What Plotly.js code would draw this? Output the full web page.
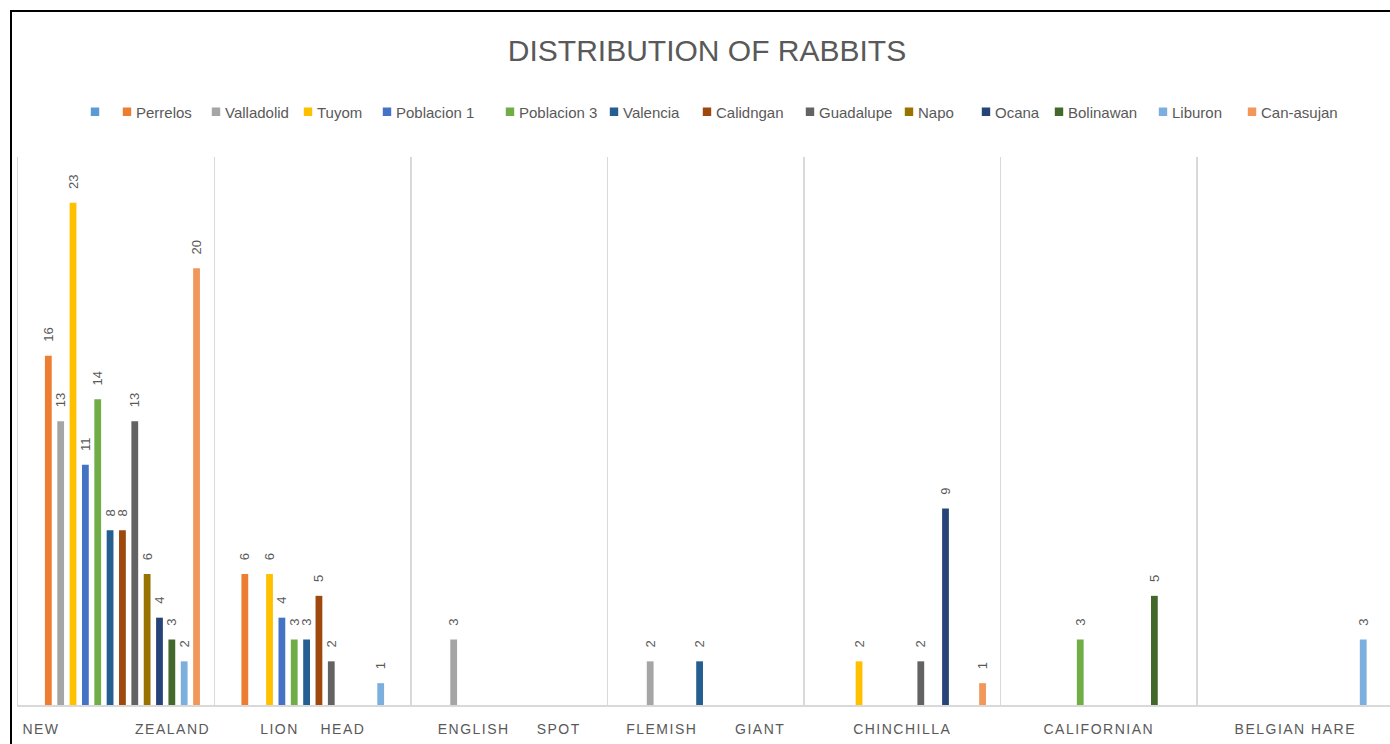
<!DOCTYPE html>
<html><head><meta charset="utf-8">
<script src="https://cdn.plot.ly/plotly-3.0.1.min.js"></script>
<style>
html,body{margin:0;padding:0;background:#fff;overflow:hidden;width:1390px;height:744px;}
#chart{position:absolute;left:0;top:0;width:1390px;height:744px;}
#frame{position:absolute;left:10px;top:10px;width:1500px;height:900px;border-left:2px solid #000;border-top:2px solid #000;pointer-events:none;z-index:5;}
.xtick text{letter-spacing:1.5px;}
.legendpoints path{transform:translate(31px,0px) scale(0.7);}
</style></head><body>
<div id="chart"></div><div id="frame"></div>
<script>
const categories = ["NEW ZEALAND","LION HEAD","ENGLISH SPOT","FLEMISH GIANT","CHINCHILLA","CALIFORNIAN","BELGIAN HARE"];
const NB = "\u00a0";
const tickLabels = [
  "NEW" + NB.repeat(14) + "ZEALAND",
  "LION" + NB.repeat(4) + "HEAD",
  "ENGLISH" + NB.repeat(5) + "SPOT",
  "FLEMISH" + NB.repeat(7) + "GIANT",
  "CHINCHILLA",
  "CALIFORNIAN",
  "BELGIAN HARE"
];
const seriesNames = ["", "Perrelos", "Valladolid", "Tuyom", "Poblacion 1", "Poblacion 3", "Valencia", "Calidngan", "Guadalupe", "Napo", "Ocana", "Bolinawan", "Liburon", "Can-asujan"];
const seriesColors = ["#5B9BD5", "#ED7D31", "#A5A5A5", "#FFC000", "#4472C4", "#70AD47", "#255E91", "#9E480E", "#636363", "#997300", "#264478", "#43682B", "#7CAFDD", "#F1975A"];
//                     NZ    LH    ES    FG    CH    CA    BH
const unnamed     = [null, null, null, null, null, null, null];
const perrelos    = [16,   6,    null, null, null, null, null];
const valladolid  = [13,   null, 3,    2,    null, null, null];
const tuyom       = [23,   6,    null, null, 2,    null, null];
const poblacion1  = [11,   4,    null, null, null, null, null];
const poblacion3  = [14,   3,    null, null, null, 3,    null];
const valencia    = [8,    3,    null, 2,    null, null, null];
const calidngan   = [8,    5,    null, null, null, null, null];
const guadalupe   = [13,   2,    null, null, 2,    null, null];
const napo        = [6,    null, null, null, null, null, null];
const ocana       = [4,    null, null, null, 9,    null, null];
const bolinawan   = [3,    null, null, null, null, 5,    null];
const liburon     = [2,    1,    null, null, null, null, 3];
const canasujan   = [20,   null, null, null, 1,    null, null];
const seriesValues = [unnamed, perrelos, valladolid, tuyom, poblacion1, poblacion3, valencia, calidngan, guadalupe, napo, ocana, bolinawan, liburon, canasujan];

// legend entry placement (pixel x of each legend swatch centre) - layout only
const legendSwatchX = [95, 127, 216, 308, 387, 510, 614, 707, 810, 909, 986, 1059, 1163, 1252];
const SWATCH_OFFSET = 31; // swatch centre relative to legend box left (see CSS)

const FONT = "Liberation Sans, Arial, sans-serif";
const GRAY = "#595959";
const W = 1390, H = 744;

const legendId = i => i === 0 ? "legend" : "legend" + (i + 1);

const data = seriesValues.map((vals, i) => ({
  type: "bar",
  name: seriesNames[i],
  legend: legendId(i),
  x: categories,
  y: vals,
  marker: {color: seriesColors[i]},
  text: vals.map(v => v == null ? "" : NB + NB + NB + String(v)),
  texttemplate: "%{text}",
  textposition: "outside",
  textangle: -90,
  constraintext: "none",
  cliponaxis: false,
  outsidetextfont: {family: FONT, size: 13, color: GRAY},
  hoverinfo: "x+y+name"
}));

const layout = {
  width: W, height: H,
  margin: {l: 18, r: 0, t: 157, b: 39},
  paper_bgcolor: "#ffffff", plot_bgcolor: "#ffffff",
  barmode: "group",
  bargap: 0.12,
  bargroupgap: 0.45,
  title: {
    text: "DISTRIBUTION OF RABBITS",
    font: {family: FONT, size: 30, color: GRAY},
    x: 707 / W, xref: "container", xanchor: "center",
    y: 1 - 50 / H, yref: "container", yanchor: "middle"
  },
  showlegend: true,
  xaxis: {
    type: "category",
    range: [-0.5, 6.482],
    tickmode: "array",
    tickvals: categories,
    ticktext: tickLabels,
    tickson: "boundaries",
    ticks: "",
    showgrid: true,
    gridcolor: "#D9D9D9",
    gridwidth: 1.3,
    showline: true,
    linecolor: "#D9D9D9",
    linewidth: 1.5,
    tickfont: {family: FONT, size: 14, color: GRAY},
    ticklabelstandoff: 11,
    automargin: false,
    fixedrange: true
  },
  yaxis: {
    range: [0, 25.1],
    showticklabels: false,
    ticks: "",
    showgrid: false,
    zeroline: false,
    showline: true,
    linecolor: "#D9D9D9",
    linewidth: 1.3,
    automargin: false,
    fixedrange: true
  }
};

legendSwatchX.forEach((px, i) => {
  layout[legendId(i)] = {
    orientation: "h",
    x: (px - SWATCH_OFFSET) / W, xref: "container", xanchor: "left",
    y: 1 - 112 / H, yref: "container", yanchor: "middle",
    font: {family: FONT, size: 15, color: GRAY},
    bgcolor: "rgba(0,0,0,0)",
    borderwidth: 0
  };
});

Plotly.newPlot("chart", data, layout, {displayModeBar: false, staticPlot: true});
</script>
</body></html>
